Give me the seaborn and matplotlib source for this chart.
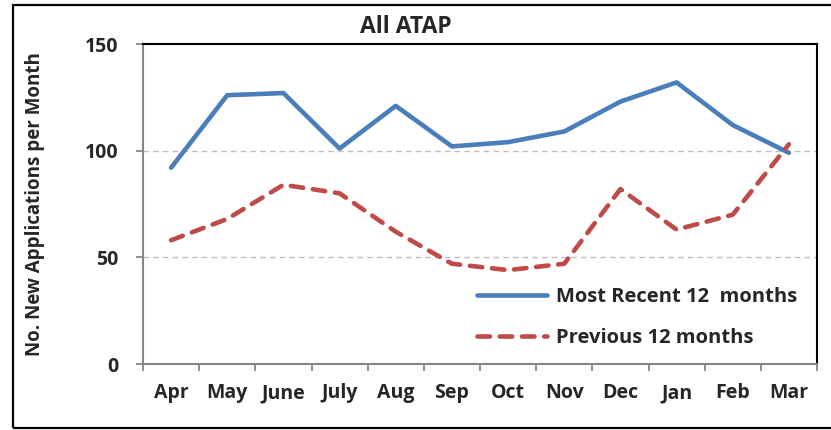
import matplotlib
matplotlib.use("Agg")
import matplotlib.pyplot as plt
import matplotlib.patches as mpatches
from matplotlib.ticker import FixedLocator, NullFormatter, FixedFormatter
import pandas as pd
import seaborn as sns

# Monthly new applications
months = ["Apr", "May", "June", "July", "Aug", "Sep", "Oct", "Nov", "Dec", "Jan", "Feb", "Mar"]
recent_12 = [92, 126, 127, 101, 121, 102, 104, 109, 123, 132, 112, 99]
previous_12 = [58, 68, 84, 80, 62, 47, 44, 47, 82, 63, 70, 103]
series_names = ["Most Recent 12  months", "Previous 12 months"]
y_ticks = [0, 50, 100, 150]
title = "All ATAP"
y_label = "No. New Applications per Month"

sns.set_theme(style="white")
plt.rcParams["font.family"] = ["Open Sans", "DejaVu Sans"]
plt.rcParams["font.weight"] = "bold"
plt.rcParams["lines.scale_dashes"] = False

FS = 14

df = pd.DataFrame({
    "pos": list(range(len(months))) * 2,
    "value": recent_12 + previous_12,
    "series": [series_names[0]] * len(months) + [series_names[1]] * len(months),
})

fig = plt.figure(figsize=(8.31, 4.30), dpi=100)
ax = fig.add_axes([143 / 831, 66 / 430, 674 / 831, 320 / 430])

blue = "#4A7EBB"
red = "#BE4B48"

sns.lineplot(data=df[df.series == series_names[0]], x="pos", y="value", ax=ax,
             color=blue, linewidth=3.3, label=series_names[0],
             solid_capstyle="round")
sns.lineplot(data=df[df.series == series_names[1]], x="pos", y="value", ax=ax,
             color=red, linewidth=3.3, label=series_names[1],
             dash_capstyle="round")
ax.lines[1].set_dashes((9, 7))

ax.set_xlim(-0.5, len(months) - 0.5)
ax.set_ylim(0, 150)

# Category boundaries carry the tick marks, centres carry the labels
ax.xaxis.set_major_locator(FixedLocator([i - 0.5 for i in range(len(months) + 1)]))
ax.xaxis.set_major_formatter(NullFormatter())
ax.xaxis.set_minor_locator(FixedLocator(list(range(len(months)))))
ax.xaxis.set_minor_formatter(FixedFormatter(months))
ax.tick_params(axis="x", which="major", direction="out", length=5, width=1.3,
               color="#868686", bottom=True)
ax.tick_params(axis="x", which="minor", length=0, pad=14, labelsize=FS)
for lab in ax.get_xticklabels(minor=True):
    lab.set_fontweight("bold")

ax.set_yticks(y_ticks)
ax.tick_params(axis="y", direction="out", length=5, width=1.3, color="#868686",
               left=True, pad=13, labelsize=FS)
for lab in ax.get_yticklabels():
    lab.set_fontweight("bold")

ax.set_xlabel("")
ax.set_ylabel(y_label, fontsize=13.5, fontweight="bold")
ax.yaxis.set_label_coords(-0.145, 0.5)

for y in [50, 100]:
    ax.axhline(y, color="#BFBFBF", linewidth=1.0, linestyle=(0, (4, 3)), zorder=0)

for side in ["left", "bottom"]:
    ax.spines[side].set_color("#868686")
    ax.spines[side].set_linewidth(1.5)
for side in ["top", "right"]:
    ax.spines[side].set_color("black")
    ax.spines[side].set_linewidth(1.5)

leg = ax.legend(loc="upper left", bbox_to_anchor=(0.4955, 0.24), frameon=False,
                handlelength=3.5, handletextpad=0.4, labelspacing=1.05,
                borderpad=0, borderaxespad=0,
                prop={"size": FS + 0.5, "weight": "bold"})

fig.text(406 / 831, 1 - 27 / 430, title, ha="center", va="center",
         fontsize=16.5, fontweight="bold")

# Outer chart frame
frame = mpatches.Rectangle((13 / 831, 2 / 430), 1.0, 423 / 430,
                           transform=fig.transFigure, fill=False,
                           edgecolor="black", linewidth=1.6)
fig.patches.append(frame)

fig.savefig("out.png", dpi=100)
